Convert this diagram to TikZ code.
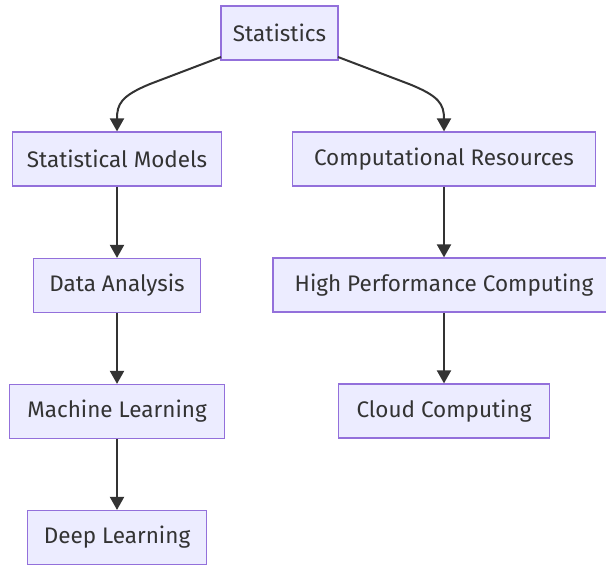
\documentclass[tikz,border=0pt]{standalone}
\usepackage{fontspec}
\setmainfont{Fira Sans}
\usetikzlibrary{arrows.meta}
\definecolor{boxfill}{HTML}{ECECFF}
\definecolor{boxline}{HTML}{9370DB}
\definecolor{ink}{HTML}{333333}
\begin{document}
\begin{tikzpicture}[x=1pt,y=-1pt,
  box/.style={draw=boxline,fill=boxfill,line width=1.2pt,minimum height=54pt,inner sep=0pt,
    font=\fontsize{22.5}{24}\selectfont,text=ink},
  link/.style={draw=ink,line width=2pt,-{Triangle[length=13pt,width=14pt]}}]
\useasboundingbox (0,0) rectangle (606,565);
\node[box,minimum width=117pt] (st) at (279.5,33) {Statistics};
\node[box,minimum width=209pt] (sm) at (117,159) {Statistical Models};
\node[box,minimum width=167pt] (da) at (117,285.5) {Data Analysis};
\node[box,minimum width=215pt] (ml) at (117,411.5) {Machine Learning};
\node[box,minimum width=179pt] (dl) at (117,537.5) {Deep Learning};
\node[box,minimum width=303pt] (cr) at (444,159) {Computational Resources};
\node[box,minimum width=342pt] (hp) at (444,285) {High Performance Computing};
\node[box,minimum width=211pt] (cc) at (444,411) {Cloud Computing};
\coordinate (l1) at (221,57);
\coordinate (l2) at (150,84);
\coordinate (r1) at (338,57);
\coordinate (r2) at (409,84);
\draw[link] (l1) -- (l2) .. controls (121,96) and (117,104) .. (sm.north);
\draw[link] (r1) -- (r2) .. controls (439,96) and (444,104) .. (cr.north);
\draw[link] (sm.south) -- (da.north);
\draw[link] (da.south) -- (ml.north);
\draw[link] (ml.south) -- (dl.north);
\draw[link] (cr.south) -- (hp.north);
\draw[link] (hp.south) -- (cc.north);
\end{tikzpicture}
\end{document}
